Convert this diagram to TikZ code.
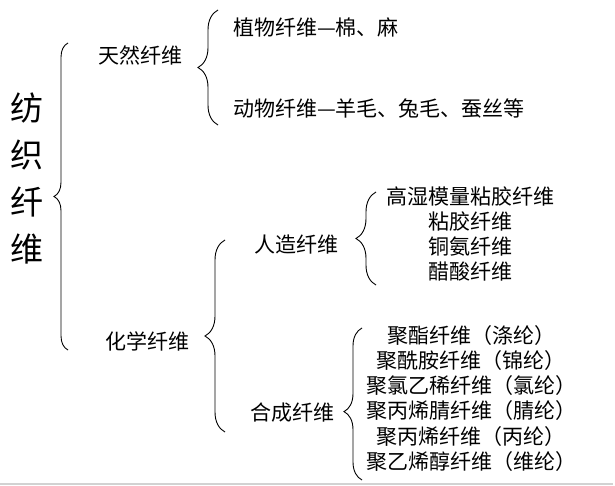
\documentclass[tikz,border=0pt]{standalone}
\usepackage{fontspec}
\setmainfont{Noto Sans CJK SC}
\usetikzlibrary{decorations.pathreplacing}

\tikzset{
  label/.style={inner sep=0pt, font=\fontsize{21}{21}\selectfont},
  bigtitle/.style={inner sep=0pt, align=center, font=\fontsize{33}{47}\selectfont},
  leftbrace/.style={decorate, decoration={brace, amplitude=#1}, line width=0.9pt},
}

\begin{document}
\begin{tikzpicture}[x=1pt,y=-1pt]
        \useasboundingbox (0,0) rectangle (615,486);

        \node[bigtitle] (fiber) at (27,178) {纺\\织\\纤\\维};

        \node[label] (natural) at (140,55) {天然纤维};
        \node[label] (chemical) at (147,341) {化学纤维};

        \node[label,anchor=west] (plant) at (233,27) {植物纤维—棉、麻};
        \node[label,anchor=west] (animal) at (233,108) {动物纤维—羊毛、兔毛、蚕丝等};

        \node[label] (artificial) at (296,245) {人造纤维};
        \node[label] (synthetic) at (292,413) {合成纤维};

        \node[label] (art1) at (470,197) {高湿模量粘胶纤维};
        \node[label] (art2) at (470,222) {粘胶纤维};
        \node[label] (art3) at (470,247) {铜氨纤维};
        \node[label] (art4) at (470,272) {醋酸纤维};

        \node[label] (syn1) at (471,336) {聚酯纤维（涤纶）};
        \node[label] (syn2) at (471,361) {聚酰胺纤维（锦纶）};
        \node[label] (syn3) at (471,386) {聚氯乙稀纤维（氯纶）};
        \node[label] (syn4) at (471,411) {聚丙烯腈纤维（腈纶）};
        \node[label] (syn5) at (471,437) {聚丙烯纤维（丙纶）};
        \node[label] (syn6) at (471,462) {聚乙烯醇纤维（维纶）};

        % brace ends
        \coordinate (fiberlo) at (68,350);
        \coordinate (fiberhi) at (68,43);
        \coordinate (naturallo) at (218,125);
        \coordinate (naturalhi) at (218,10);
        \coordinate (chemicallo) at (225,432);
        \coordinate (chemicalhi) at (225,240);
        \coordinate (artificiallo) at (376,285);
        \coordinate (artificialhi) at (376,192);
        \coordinate (syntheticlo) at (362,480);
        \coordinate (synthetichi) at (362,328);

        \draw[leftbrace=14pt] (fiberlo) -- (fiberhi);
        \draw[leftbrace=20pt] (naturallo) -- (naturalhi);
        \draw[leftbrace=20pt] (chemicallo) -- (chemicalhi);
        \draw[leftbrace=20pt] (artificiallo) -- (artificialhi);
        \draw[leftbrace=18pt,decoration={aspect=0.45}] (syntheticlo) -- (synthetichi);

        \draw[gray!35,line width=1.5pt] (0,484) -- (613,484);
    \end{tikzpicture}
\end{document}
